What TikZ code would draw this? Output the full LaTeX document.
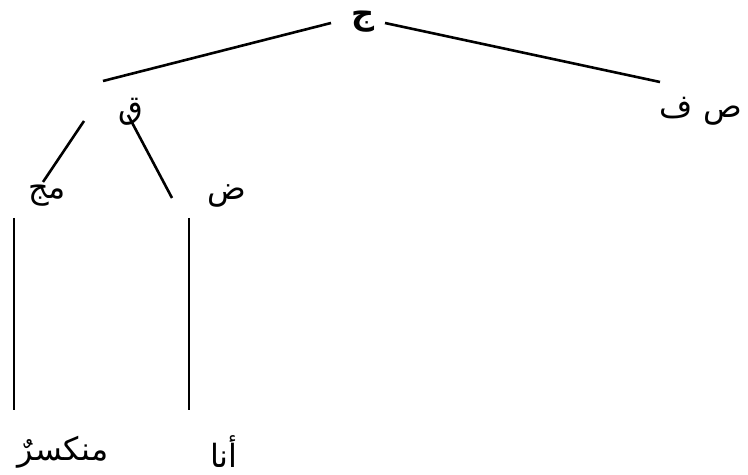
\documentclass[tikz,border=0pt]{standalone}
\usepackage{fontspec}
\newfontfamily\arabicfont[Script=Arabic]{DejaVu Sans}
\TeXXeTstate=1
\usetikzlibrary{calc}

\tikzset{
  word/.style={font=\arabicfont\fontsize{16}{19}\selectfont, inner sep=0pt},
  rootword/.style={font=\arabicfont\bfseries\fontsize{16}{19}\selectfont, inner sep=0pt},
  branch/.style={line width=1.3pt, black},
}

\begin{document}
\begin{tikzpicture}[x=0.5pt, y=-0.5pt]
    \useasboundingbox (0,0) rectangle (748,475);

    % labels of the tree
    \node[rootword] (j) at (363,22) {\beginR ج\endR};
    \node[word] (q) at (131,112) {\beginR ق\endR};
    \node[word] (sf) at (701,111) {\beginR ص ف\endR};
    \node[word] (mj) at (47,196) {\beginR مج\endR};
    \node[word] (d) at (227,196) {\beginR ض\endR};
    \node[word] (mnks) at (63,452) {\beginR منكسرٌ\endR};
    \node[word] (ana) at (224,452) {\beginR أنا\endR};

    % branches
    \draw[branch] ($(j)+(-32,1)$) -- ($(q)+(-28,-31)$);
    \draw[branch] ($(j)+(22,1)$) -- ($(sf)+(-41,-29)$);
    \draw[branch] ($(q)+(-47,9)$) -- ($(mj)+(-4,-14)$);
    \draw[branch] ($(q)+(-3,3)$) -- ($(d)+(-55,2)$);
    \draw[branch] ($(mj)+(-33,22)$) -- ($(mnks)+(-49,-42)$);
    \draw[branch] ($(d)+(-38,22)$) -- ($(ana)+(-35,-42)$);
\end{tikzpicture}
\end{document}
